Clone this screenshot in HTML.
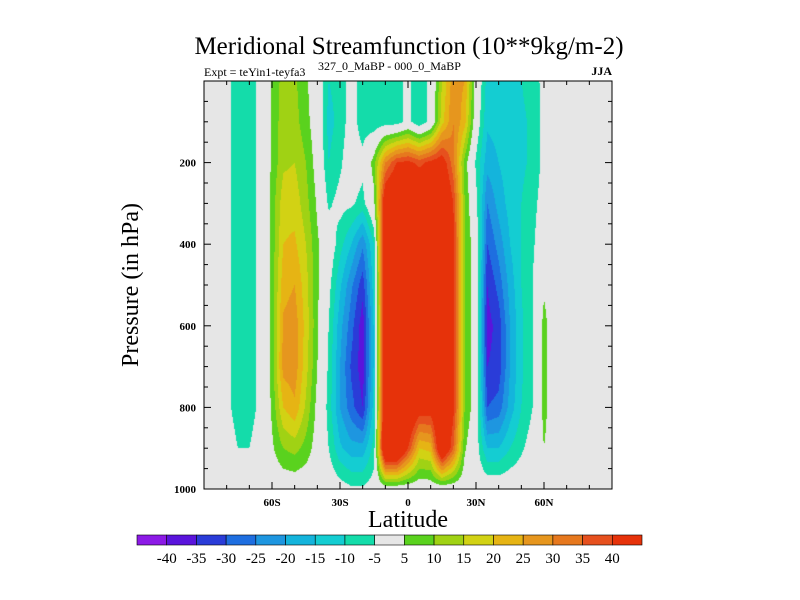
<!DOCTYPE html>
<html><head><meta charset="utf-8"><style>
body{margin:0;background:#fff;width:800px;height:600px;overflow:hidden;font-family:"Liberation Serif",serif}
#wrap{position:relative;width:800px;height:600px}
canvas{position:absolute;left:204px;top:81px}
svg{position:absolute;left:0;top:0}
</style></head><body>
<div id="wrap">
<canvas id="cv" width="408" height="408"></canvas>
<svg id="sv" width="800" height="600">
<text x="409" y="54" text-anchor="middle" font-size="25">Meridional Streamfunction (10**9kg/m-2)</text>
<text x="204" y="76" font-size="12">Expt = teYin1-teyfa3</text>
<text x="318" y="70" font-size="12">327_0_MaBP - 000_0_MaBP</text>
<text x="612" y="75" text-anchor="end" font-size="12" font-weight="bold">JJA</text>
<text x="408" y="527" text-anchor="middle" font-size="24">Latitude</text>
<text transform="translate(138,285) rotate(-90)" text-anchor="middle" font-size="24">Pressure (in hPa)</text>
</svg>
</div>
<script>
const lats=[-90,-85,-80,-75,-70,-65,-60,-55,-50,-45,-40,-35,-30,-25,-20,-15,-10,-5,0,5,10,15,20,25,30,35,40,45,50,55,60,65,70,75,80,85,90];
const levels=[0,100,200,300,400,500,600,700,800,900,1000];
const p0=[0,0,-3,-8,-8,-3,6,12,11,6,0,-10,-8,-2,-8,-9,-8,-8,-3,-10,-3,15,28,25,2,-12,-12,-12,-10,-8,-3,0,0,0,0,0,0];
const p100=[0,0,-3,-8,-8,-3,6,13,12,7,1,-12,-8,-2,-8,-9,-8,-8,-3,-10,-3,18,30,22,0,-14,-13,-12,-11,-9,-3,0,0,0,0,0,0];
const p200=[0,0,-3,-8,-8,-3,6,14,15,10,2,-10,-6,-1,-3,8,30,40,42,38,42,45,32,8,-6,-18,-15,-12,-11,-9,-3,0,0,0,0,0,0];
const p300=[0,0,-3,-8,-8,-3,7,18,18,12,4,-6,-3,-4,-7,3,50,55,55,55,55,55,40,10,-3,-25,-18,-13,-10,-7,-2,0,0,0,0,0,0];
const p400=[0,0,-3,-8,-8,-3,7,20,21,15,6,0,-8,-15,-24,-10,55,60,60,60,60,58,42,10,1,-30,-23,-15,-10,-6,0,0,0,0,0,0,0];
const p500=[0,0,-3,-8,-8,-3,7,23,25,17,6,-3,-14,-24,-33,-12,55,60,60,60,60,58,42,10,1,-35,-28,-18,-10,-5,4,0,0,0,0,0,0];
const p600=[0,0,-3,-8,-8,-3,7,26,28,18,6,-5,-18,-28,-38,-14,55,60,60,60,60,58,42,10,1,-37,-33,-20,-11,-5,7,0,0,0,0,0,0];
const p700=[0,0,-3,-8,-8,-3,7,27,28,17,5,-6,-20,-31,-38,-14,55,60,60,60,60,58,42,10,1,-35,-33,-20,-11,-5,7,0,0,0,0,0,0];
const p800=[0,0,-3,-8,-8,-3,6,20,24,14,3,-7,-20,-28,-35,-12,55,60,55,45,45,55,42,10,1,-30,-28,-18,-10,-5,7,0,0,0,0,0,0];
const p900=[0,0,-1,-5,-5,-1,4,10,12,8,2,-5,-14,-18,-18,-8,60,60,40,20,22,55,35,6,-2,-15,-15,-10,-6,-2,5,0,0,0,0,0,0];
const p1000=[0,0,0,0,0,0,0,0,0,0,0,0,-2,-4,-4,-2,0,0,0,0,0,0,0,0,0,0,0,0,0,0,0,0,0,0,0,0,0];
const field=[p0,p100,p200,p300,p400,p500,p600,p700,p800,p900,p1000];
const bounds=[-40,-35,-30,-25,-20,-15,-10,-5,5,10,15,20,25,30,35,40];
const colors=["#8c1ae6","#5a14dc","#2a3cd8","#1e6ee0","#1e96e0","#14b4dc","#14cdd2","#14dcaa","#e6e6e6","#5ad21e","#a0d214","#d2d214","#e6b414","#e6961e","#e6781e","#e6501e","#e6320a"];
const xTicks=[-60,-30,0,30,60];
const xTickLabels=["60S","30S","0","30N","60N"];
const yTicks=[200,400,600,800,1000];
const cbLabels=["-40","-35","-30","-25","-20","-15","-10","-5","5","10","15","20","25","30","35","40"];

const X0=204,X1=612,Y0=81,Y1=489;
const xs=l=>X0+(l+90)/180*(X1-X0);
const ys=p=>Y0+p/1000*(Y1-Y0);
function hex(c){return [parseInt(c.substr(1,2),16),parseInt(c.substr(3,2),16),parseInt(c.substr(5,2),16)];}
const rgb=colors.map(hex);
function bin(v){let i=0;while(i<bounds.length&&v>=bounds[i])i++;return i;}
function val(lat,p){
  let i=0;while(i<lats.length-2&&lat>lats[i+1])i++;
  let j=0;while(j<levels.length-2&&p>levels[j+1])j++;
  const tx=(lat-lats[i])/(lats[i+1]-lats[i]),ty=(p-levels[j])/(levels[j+1]-levels[j]);
  const a=field[j][i],b=field[j][i+1],c=field[j+1][i],d=field[j+1][i+1];
  return (a*(1-tx)+b*tx)*(1-ty)+(c*(1-tx)+d*tx)*ty;
}
const cv=document.getElementById('cv'),ctx=cv.getContext('2d');
const W=cv.width,H=cv.height,img=ctx.createImageData(W,H);
for(let y=0;y<H;y++){for(let x=0;x<W;x++){
  const lat=-90+(x+0.5)/W*180,p=(y+0.5)/H*1000;
  const c=rgb[bin(val(lat,p))],k=(y*W+x)*4;
  img.data[k]=c[0];img.data[k+1]=c[1];img.data[k+2]=c[2];img.data[k+3]=255;}}
ctx.putImageData(img,0,0);

const NS='http://www.w3.org/2000/svg',sv=document.getElementById('sv');
function mk(t,a,txt){const e=document.createElementNS(NS,t);for(const k in a)e.setAttribute(k,a[k]);if(txt!==undefined)e.textContent=txt;sv.appendChild(e);return e;}
let fr=mk('rect',{x:X0,y:Y0,width:X1-X0,height:Y1-Y0,fill:'none',stroke:'#000','stroke-width':1});


for(let l=-80;l<=80;l+=10){const L=(l%30===0)?7:4,x=xs(l);
  let t1=mk('line',{x1:x,y1:Y1,x2:x,y2:Y1-L,stroke:'#000'});
  
  
  let t2=mk('line',{x1:x,y1:Y0,x2:x,y2:Y0+L,stroke:'#000'});
  
  }
for(let p=50;p<1000;p+=50){const L=(p%200===0)?7:4,y=ys(p);
  let t1=mk('line',{x1:X0,y1:y,x2:X0+L,y2:y,stroke:'#000'});
  
  
  let t2=mk('line',{x1:X1,y1:y,x2:X1-L,y2:y,stroke:'#000'});
  
  }
xTicks.forEach((l,i)=>{let t=mk('text',{x:xs(l),y:Y1+17,'text-anchor':'middle','font-size':11,'font-weight':'bold'},xTickLabels[i]);
  
  });
yTicks.forEach(p=>{let t=mk('text',{x:X0-8,y:ys(p)+4,'text-anchor':'end','font-size':11,'font-weight':'bold'},String(p));
  
  });
const CB0=137,CB1=642,CBY=535,CBH=10,bw=(CB1-CB0)/colors.length;
colors.forEach((c,i)=>{let r=mk('rect',{x:CB0+i*bw,y:CBY,width:bw,height:CBH,fill:c,stroke:'#000','stroke-width':0.6});
  
  });
cbLabels.forEach((s,i)=>{let t=mk('text',{x:CB0+(i+1)*bw,y:CBY+28,'text-anchor':'middle','font-size':15},s);
  
  });
</script>
</body></html>
